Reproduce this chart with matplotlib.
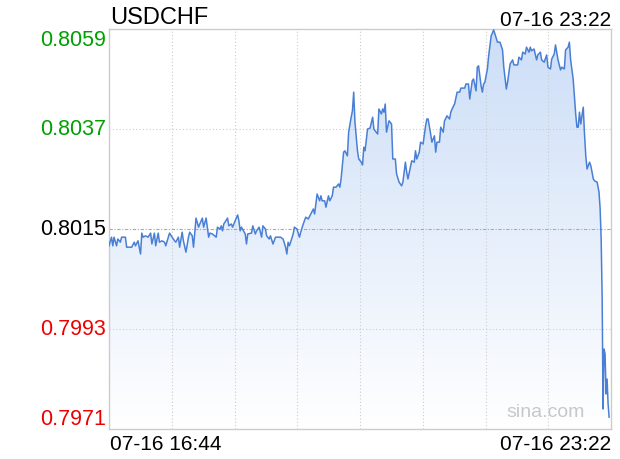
import numpy as np
import matplotlib
matplotlib.use("Agg")
import matplotlib.pyplot as plt
from matplotlib.patches import Polygon

plt.rcParams['font.family'] = ['Liberation Sans', 'DejaVu Sans']

# minutes after 07-16 16:44, and USDCHF price
minutes = [0, 2, 3, 4, 6, 7, 9, 10, 13, 14, 18, 20, 21, 23, 25, 26, 27, 29, 31, 33,
           34, 36, 37, 39, 40, 42, 44, 45, 47, 48, 50, 52, 53, 55, 56, 58, 59, 61, 63, 64,
           66, 67, 69, 71, 72, 74, 75, 77, 79, 80, 82, 85, 86, 88, 89, 90, 91, 94, 95, 97,
           98, 100, 102, 103, 104, 105, 108, 109, 110, 113, 114, 116, 117, 119, 121, 122, 124, 125, 127, 128,
           130, 132, 136, 138, 140, 141, 142, 143, 144, 146, 147, 149, 151, 152, 154, 156, 158, 160, 162, 163,
           165, 167, 168, 169, 171, 172, 174, 175, 177, 178, 180, 182, 183, 184, 186, 187, 189, 190, 192, 193,
           194, 195, 197, 198, 200, 201, 202, 203, 205, 207, 209, 210, 211, 213, 214, 216, 217, 218, 219, 220,
           222, 224, 225, 227, 228, 230, 231, 232, 233, 235, 236, 237, 239, 240, 242, 243, 244, 246, 247, 249,
           251, 252, 253, 255, 256, 258, 259, 260, 262, 263, 265, 266, 268, 270, 271, 272, 274, 276, 278, 279,
           282, 283, 285, 286, 288, 289, 291, 292, 293, 295, 296, 297, 298, 300, 301, 303, 305, 306, 308, 310,
           312, 313, 315, 316, 318, 320, 321, 324, 325, 327, 328, 330, 331, 333, 334, 335, 337, 339, 340, 342,
           343, 345, 347, 348, 350, 351, 353, 354, 356, 358, 359, 361, 362, 364, 365, 366, 368, 370, 371, 372,
           373, 374, 376, 377, 378, 379, 381, 382, 384, 385, 387, 388.5, 389.4, 390.2, 391, 391.7, 392.5, 393.3, 394.1, 394.9,
           395.7, 396.5]
prices = [0.80113, 0.80132, 0.80113, 0.80132, 0.80113, 0.80128, 0.80121, 0.80132, 0.80132, 0.80110,
          0.80110, 0.80121, 0.80113, 0.80124, 0.80095, 0.80141, 0.80132, 0.80135, 0.80132, 0.80141,
          0.80117, 0.80141, 0.80113, 0.80141, 0.80121, 0.80124, 0.80121, 0.80113, 0.80132, 0.80141,
          0.80132, 0.80124, 0.80121, 0.80132, 0.80110, 0.80143, 0.80124, 0.80099, 0.80132, 0.80143,
          0.80135, 0.80110, 0.80174, 0.80154, 0.80161, 0.80174, 0.80154, 0.80174, 0.80132, 0.80141,
          0.80139, 0.80132, 0.80154, 0.80150, 0.80157, 0.80146, 0.80161, 0.80174, 0.80157, 0.80161,
          0.80154, 0.80168, 0.80181, 0.80168, 0.80146, 0.80154, 0.80139, 0.80117, 0.80139, 0.80141,
          0.80157, 0.80139, 0.80146, 0.80154, 0.80132, 0.80157, 0.80150, 0.80135, 0.80128, 0.80135,
          0.80117, 0.80132, 0.80132, 0.80128, 0.80110, 0.80095, 0.80121, 0.80113, 0.80121, 0.80139,
          0.80154, 0.80150, 0.80132, 0.80143, 0.80161, 0.80176, 0.80172, 0.80183, 0.80194, 0.80183,
          0.80227, 0.80212, 0.80223, 0.80212, 0.80212, 0.80198, 0.80223, 0.80212, 0.80223, 0.80242,
          0.80242, 0.80249, 0.80242, 0.80260, 0.80319, 0.80322, 0.80311, 0.80363, 0.80396, 0.80410,
          0.80451, 0.80385, 0.80322, 0.80304, 0.80297, 0.80291, 0.80330, 0.80322, 0.80370, 0.80372,
          0.80396, 0.80370, 0.80366, 0.80359, 0.80414, 0.80403, 0.80414, 0.80407, 0.80425, 0.80363,
          0.80388, 0.80381, 0.80304, 0.80304, 0.80271, 0.80253, 0.80249, 0.80245, 0.80253, 0.80297,
          0.80275, 0.80260, 0.80286, 0.80300, 0.80297, 0.80322, 0.80304, 0.80319, 0.80341, 0.80337,
          0.80377, 0.80392, 0.80392, 0.80359, 0.80341, 0.80355, 0.80319, 0.80341, 0.80341, 0.80374,
          0.80363, 0.80388, 0.80399, 0.80392, 0.80407, 0.80414, 0.80425, 0.80451, 0.80451, 0.80460,
          0.80460, 0.80469, 0.80469, 0.80436, 0.80476, 0.80480, 0.80454, 0.80506, 0.80509, 0.80465,
          0.80451, 0.80469, 0.80473, 0.80502, 0.80531, 0.80575, 0.80588, 0.80579, 0.80561, 0.80561,
          0.80544, 0.80506, 0.80458, 0.80473, 0.80513, 0.80522, 0.80511, 0.80511, 0.80528, 0.80522,
          0.80539, 0.80535, 0.80550, 0.80539, 0.80550, 0.80542, 0.80546, 0.80522, 0.80533, 0.80539,
          0.80522, 0.80517, 0.80533, 0.80506, 0.80502, 0.80524, 0.80535, 0.80555, 0.80522, 0.80500,
          0.80506, 0.80502, 0.80544, 0.80550, 0.80561, 0.80522, 0.80480, 0.80403, 0.80374, 0.80374,
          0.80407, 0.80381, 0.80418, 0.80359, 0.80311, 0.80282, 0.80297, 0.80289, 0.80260, 0.80256,
          0.80253, 0.80231, 0.80194, 0.80128, 0.79996, 0.79754, 0.79886, 0.79875, 0.79787, 0.79820,
          0.79765, 0.79736]

ymin, ymax = 0.7971, 0.8059
prev_close = 0.8015
y_ticks = [0.8059, 0.8037, 0.8015, 0.7993, 0.7971]
total_minutes = 398
start_label = "07-16 16:44"
end_label = "07-16 23:22"

fig = plt.figure(figsize=(6.2, 4.6), dpi=100)
ax = fig.add_axes([109 / 620, 30 / 460, 502 / 620, 400 / 460])
ax.set_xlim(0, total_minutes)
ax.set_ylim(ymin, ymax)

# gradient fill under the line
grad = np.linspace(0, 1, 256).reshape(-1, 1)
top_c = np.array([0.80, 0.87, 0.97])
bot_c = np.array([1.0, 1.0, 1.0])
img = top_c * (1 - grad[..., None]) + bot_c * grad[..., None]
img = img.reshape(256, 1, 3)
im = ax.imshow(img, extent=[0, total_minutes, ymin, ymax], aspect='auto',
               origin='upper', zorder=1)
poly = Polygon(list(zip([minutes[0]] + minutes + [minutes[-1]],
                        [ymin] + prices + [ymin])), closed=True,
               facecolor='none', edgecolor='none')
ax.add_patch(poly)
im.set_clip_path(poly)

ax.plot(minutes, prices, color='#4a7fd6', lw=1.1, zorder=3)

# grid
for k in range(1, 8):
    ax.axvline(total_minutes * k / 8, color='#cccccc', lw=0.8, ls=(0, (1, 2)), zorder=2)
for v in y_ticks[1:-1]:
    if v == prev_close:
        ax.axhline(v, color='#aaaaaa', lw=0.8, ls=(0, (3, 1.5, 1, 1.5)), zorder=2)
    else:
        ax.axhline(v, color='#cccccc', lw=0.8, ls=(0, (1, 2)), zorder=2)

ax.set_xticks([])
ax.set_yticks([])
for s in ax.spines.values():
    s.set_color('#cccccc')
    s.set_linewidth(1)

# y labels
for v in y_ticks:
    if v > prev_close:
        c = '#00a000'
    elif v < prev_close:
        c = '#ee0000'
    else:
        c = 'black'
    va = 'center'
    if v == ymax:
        va = 'top'
    elif v == ymin:
        va = 'bottom'
    ax.text(-0.006, v, f"{v:.4f}", transform=ax.get_yaxis_transform(),
            ha='right', va=va, color=c, fontsize=15.5)

fig.text(110 / 620, 1 - 18 / 460, "USDCHF", ha='left', va='center', fontsize=17)
fig.text(611 / 620, 1 - 20 / 460, end_label, ha='right', va='center', fontsize=15)
fig.text(110 / 620, 1 - 445 / 460, start_label, ha='left', va='center', fontsize=15)
fig.text(611 / 620, 1 - 445 / 460, end_label, ha='right', va='center', fontsize=15)
fig.text(546 / 620, 1 - 413 / 460, "sina.com", ha='center', va='center',
         fontsize=14, color='#c8c8c8')

fig.savefig("out.png", dpi=100)
